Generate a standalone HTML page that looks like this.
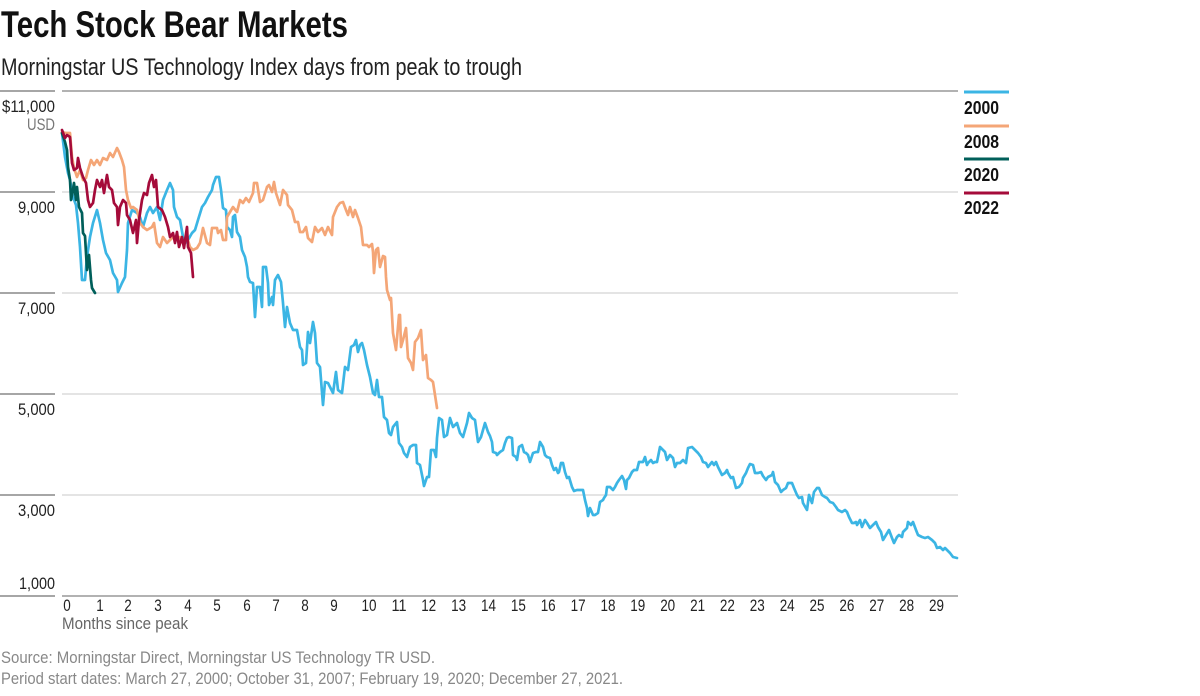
<!DOCTYPE html>
<html>
<head>
<meta charset="utf-8">
<style>
  html, body { margin: 0; padding: 0; background: #fff; }
  svg { display: block; }
  .c { font-family: "Liberation Sans Narrow", "Liberation Sans", sans-serif; }
</style>
</head>
<body>
<svg width="1200" height="696" viewBox="0 0 1200 696" xmlns="http://www.w3.org/2000/svg">
  <rect x="0" y="0" width="1200" height="696" fill="#fff"/>

  <!-- Title & subtitle -->
  <text class="c" x="1" y="37" font-size="37" font-weight="bold" fill="#111" textLength="347" lengthAdjust="spacingAndGlyphs">Tech Stock Bear Markets</text>
  <text class="c" x="1" y="75" font-size="24" fill="#222" textLength="521" lengthAdjust="spacingAndGlyphs">Morningstar US Technology Index days from peak to trough</text>

  <!-- gridlines -->
  <g fill="none">
    <line x1="62" y1="192" x2="958" y2="192" stroke="#dcdcdc" stroke-width="1.5"/>
    <line x1="62" y1="293" x2="958" y2="293" stroke="#dcdcdc" stroke-width="1.5"/>
    <line x1="62" y1="394" x2="958" y2="394" stroke="#dcdcdc" stroke-width="1.5"/>
    <line x1="62" y1="495" x2="958" y2="495" stroke="#dcdcdc" stroke-width="1.5"/>
    <line x1="62" y1="91" x2="958" y2="91" stroke="#999" stroke-width="1.5"/>
    <line x1="62" y1="596" x2="958" y2="596" stroke="#999" stroke-width="1.5"/>
    <!-- left label rules -->
    <line x1="0" y1="91" x2="55" y2="91" stroke="#888" stroke-width="1.5"/>
    <line x1="0" y1="192" x2="55" y2="192" stroke="#888" stroke-width="1.5"/>
    <line x1="0" y1="293" x2="55" y2="293" stroke="#888" stroke-width="1.5"/>
    <line x1="0" y1="394" x2="55" y2="394" stroke="#888" stroke-width="1.5"/>
    <line x1="0" y1="495" x2="55" y2="495" stroke="#888" stroke-width="1.5"/>
    <line x1="0" y1="596" x2="55" y2="596" stroke="#888" stroke-width="1.5"/>
  </g>

  <!-- y labels -->
  <g class="c" font-size="16.5" fill="#222" text-anchor="end">
    <text x="55" y="112" textLength="53" lengthAdjust="spacingAndGlyphs">$11,000</text>
    <text x="55" y="130" fill="#777" textLength="28" lengthAdjust="spacingAndGlyphs">USD</text>
    <text x="55" y="213" textLength="37" lengthAdjust="spacingAndGlyphs">9,000</text>
    <text x="55" y="314" textLength="37" lengthAdjust="spacingAndGlyphs">7,000</text>
    <text x="55" y="415" textLength="37" lengthAdjust="spacingAndGlyphs">5,000</text>
    <text x="55" y="516" textLength="37" lengthAdjust="spacingAndGlyphs">3,000</text>
    <text x="55" y="589" textLength="36" lengthAdjust="spacingAndGlyphs">1,000</text>
  </g>

  <!-- x labels -->
  <g class="c" font-size="16.5" fill="#222" text-anchor="middle">
    <text x="67" y="611" textLength="7.5" lengthAdjust="spacingAndGlyphs">0</text>
    <text x="100" y="611" textLength="7.5" lengthAdjust="spacingAndGlyphs">1</text>
    <text x="128" y="611" textLength="7.5" lengthAdjust="spacingAndGlyphs">2</text>
    <text x="158" y="611" textLength="7.5" lengthAdjust="spacingAndGlyphs">3</text>
    <text x="188" y="611" textLength="7.5" lengthAdjust="spacingAndGlyphs">4</text>
    <text x="217" y="611" textLength="7.5" lengthAdjust="spacingAndGlyphs">5</text>
    <text x="247" y="611" textLength="7.5" lengthAdjust="spacingAndGlyphs">6</text>
    <text x="276" y="611" textLength="7.5" lengthAdjust="spacingAndGlyphs">7</text>
    <text x="305" y="611" textLength="7.5" lengthAdjust="spacingAndGlyphs">8</text>
    <text x="334" y="611" textLength="7.5" lengthAdjust="spacingAndGlyphs">9</text>
    <text x="369" y="611" textLength="15" lengthAdjust="spacingAndGlyphs">10</text>
    <text x="399" y="611" textLength="15" lengthAdjust="spacingAndGlyphs">11</text>
    <text x="428.7" y="611" textLength="15" lengthAdjust="spacingAndGlyphs">12</text>
    <text x="458.6" y="611" textLength="15" lengthAdjust="spacingAndGlyphs">13</text>
    <text x="488.5" y="611" textLength="15" lengthAdjust="spacingAndGlyphs">14</text>
    <text x="518.4" y="611" textLength="15" lengthAdjust="spacingAndGlyphs">15</text>
    <text x="548.2" y="611" textLength="15" lengthAdjust="spacingAndGlyphs">16</text>
    <text x="578.1" y="611" textLength="15" lengthAdjust="spacingAndGlyphs">17</text>
    <text x="608" y="611" textLength="15" lengthAdjust="spacingAndGlyphs">18</text>
    <text x="637.8" y="611" textLength="15" lengthAdjust="spacingAndGlyphs">19</text>
    <text x="667.7" y="611" textLength="15" lengthAdjust="spacingAndGlyphs">20</text>
    <text x="697.6" y="611" textLength="15" lengthAdjust="spacingAndGlyphs">21</text>
    <text x="727.4" y="611" textLength="15" lengthAdjust="spacingAndGlyphs">22</text>
    <text x="757.3" y="611" textLength="15" lengthAdjust="spacingAndGlyphs">23</text>
    <text x="787.2" y="611" textLength="15" lengthAdjust="spacingAndGlyphs">24</text>
    <text x="817" y="611" textLength="15" lengthAdjust="spacingAndGlyphs">25</text>
    <text x="846.9" y="611" textLength="15" lengthAdjust="spacingAndGlyphs">26</text>
    <text x="876.8" y="611" textLength="15" lengthAdjust="spacingAndGlyphs">27</text>
    <text x="906.6" y="611" textLength="15" lengthAdjust="spacingAndGlyphs">28</text>
    <text x="936.5" y="611" textLength="15" lengthAdjust="spacingAndGlyphs">29</text>
  </g>
  <text class="c" x="62" y="629" font-size="16.5" fill="#666" textLength="126" lengthAdjust="spacingAndGlyphs">Months since peak</text>

  <!-- Source -->
  <text class="c" x="1" y="663" font-size="16.5" fill="#888" textLength="434" lengthAdjust="spacingAndGlyphs">Source: Morningstar Direct, Morningstar US Technology TR USD.</text>
  <text class="c" x="1" y="684" font-size="16.5" fill="#888" textLength="622" lengthAdjust="spacingAndGlyphs">Period start dates: March 27, 2000; October 31, 2007; February 19, 2020; December 27, 2021.</text>

  <!-- Series -->
  <g fill="none" stroke-width="2.7" stroke-linejoin="round" stroke-linecap="round">
    <!-- 2000 -->
    <polyline stroke="#3bb5e4" points="62,133 65,157 68,173 70,180 73,197 76,205 78,223 80,247 82,280 85,280 87,257 90,237 93,223 97,210 100,223 103,240 106,253 110,260 113,273 117,280 118,292 122,283 125,277 127,250 128,223 132,210 137,213 140,217 143,227 147,213 150,207 153,213 157,207 160,220 163,200 167,190 170,183 173,190 174,207 177,217 180,220 183,237 185,243 188,240 192,233 195,230 198,220 202,207 205,203 208,197 212,190 213,185 216,177 219,177 221,190 223,208 226,210 227,227 230,230 232,237 233,217 235,215 237,232 240,237 242,250 245,257 247,267 248,277 250,282 253,283 255,317 257,287 260,287 262,307 263,267 266,267 268,283 269,305 272,297 273,305 275,280 278,275 281,282 283,303 285,327 287,307 290,323 293,330 297,330 300,347 302,350 303,365 306,363 308,332 310,343 313,322 315,333 317,363 320,367 323,405 325,382 328,383 333,393 336,372 338,390 342,393 345,367 348,370 351,347 354,345 356,340 358,352 360,345 362,343 364,350 367,365 370,377 373,393 375,395 377,380 379,397 382,397 384,417 387,420 389,433 391,435 393,427 397,422 399,443 402,447 404,453 407,457 410,447 413,445 416,445 417,463 420,465 423,480 424,486 427,477 429,477 431,450 434,450 436,457 437,438 439,418 442,420 444,437 447,435 450,418 453,427 457,423 460,433 463,437 467,423 469,413 472,418 475,420 478,442 481,437 485,423 488,432 490,436 492,442 493,452 496,453 497,455 500,452 503,450 505,443 507,438 509,437 512,438 513,455 516,457 517,460 519,447 522,445 524,452 526,453 528,455 530,462 533,453 536,452 538,452 540,442 543,447 545,455 547,457 550,458 552,465 554,470 556,468 558,473 559,472 561,463 563,463 565,472 567,478 569,477 572,487 574,491 577,490 580,490 583,490 585,500 587,508 588,516 590,508 593,515 595,515 598,513 600,502 603,500 604,498 606,495 607,487 610,487 613,490 615,487 617,483 619,480 622,476 624,480 626,489 627,480 629,478 632,472 634,470 637,470 639,462 643,462 645,457 647,465 648,463 651,460 653,463 655,462 657,462 660,447 663,450 665,452 667,460 670,455 673,458 675,467 677,463 680,463 683,460 686,463 688,448 692,447 695,450 698,453 701,457 703,462 706,463 708,467 712,462 714,465 716,462 718,467 722,475 725,473 727,470 728,473 731,478 733,477 736,488 739,487 742,483 743,478 746,473 748,468 750,464 753,465 755,473 758,473 761,472 763,476 766,480 768,477 772,475 773,472 775,482 778,485 781,492 783,490 786,488 788,483 792,483 794,488 797,495 799,498 802,497 803,503 807,510 809,495 812,503 814,492 817,488 819,488 822,495 825,497 827,498 830,502 833,503 836,507 838,510 842,512 845,510 847,512 849,517 852,523 854,523 856,522 857,525 860,520 862,527 865,520 867,523 870,528 873,525 876,522 878,527 881,532 883,540 886,535 889,530 892,538 894,543 897,537 899,535 902,537 903,532 907,528 908,522 911,525 913,522 916,530 918,535 922,537 925,538 928,537 932,540 935,543 937,548 940,547 943,550 945,548 947,550 950,553 953,557 957,558"/>
    <!-- 2008 -->
    <polyline stroke="#f4a677" points="62,132 66,133 70,133 72,157 74,168 77,177 80,170 83,180 86,178 88,170 91,160 94,165 97,160 100,165 103,158 107,160 110,153 113,157 117,148 119,152 122,160 124,167 126,190 128,200 131,208 133,207 137,210 140,223 143,227 147,230 152,227 154,223 157,243 160,247 163,237 167,243 170,240 173,237 177,240 180,237 183,243 187,237 190,247 193,250 197,248 200,243 203,228 207,243 210,245 212,228 217,228 218,233 221,230 223,240 226,240 227,217 230,212 233,207 237,212 240,200 243,203 246,198 249,202 253,193 254,183 257,183 260,202 263,200 267,187 269,185 272,192 274,182 276,193 280,205 283,190 287,195 288,205 292,210 295,222 298,222 300,232 303,232 306,227 308,238 312,242 315,227 318,232 322,228 325,235 328,227 332,235 333,217 337,207 340,203 343,202 346,210 348,215 350,207 353,217 355,210 358,218 361,227 363,245 367,245 369,247 372,244 373,252 374,273 376,250 378,248 380,267 383,256 385,257 386,277 387,290 390,300 391,298 393,333 396,350 399,315 400,315 401,347 403,340 406,328 408,358 411,363 413,370 415,342 418,338 421,330 423,360 426,355 428,378 431,380 433,382 437,408"/>
    <!-- 2020 -->
    <polyline stroke="#005f5a" points="62,133 65,142 67,150 68,167 70,180 71,200 73,190 74,183 76,200 77,187 79,207 82,213 83,233 85,236 86,253 87,270 89,255 91,280 92,288 95,293"/>
    <!-- 2022 -->
    <polyline stroke="#a50b3a" points="62,130 65,138 67,135 70,137 72,163 74,170 77,168 78,158 80,168 83,177 86,183 88,200 90,207 93,203 95,190 97,180 100,187 102,180 104,193 107,175 109,187 112,190 114,203 117,207 118,225 120,207 123,200 126,203 127,215 130,220 133,233 136,220 137,243 139,220 142,200 144,193 147,195 149,183 152,175 154,187 156,180 158,207 162,210 165,217 168,227 170,237 173,233 175,243 177,232 179,247 182,237 184,248 187,227 188,247 191,253 193,277"/>
  </g>

  <!-- Legend -->
  <g stroke-width="3">
    <line x1="964" y1="92" x2="1009" y2="92" stroke="#3bb5e4"/>
    <line x1="964" y1="126" x2="1009" y2="126" stroke="#f4a677"/>
    <line x1="964" y1="159" x2="1009" y2="159" stroke="#005f5a"/>
    <line x1="964" y1="193" x2="1009" y2="193" stroke="#a50b3a"/>
  </g>
  <g class="c" font-size="18" font-weight="bold" fill="#111">
    <text x="964" y="114" textLength="35" lengthAdjust="spacingAndGlyphs">2000</text>
    <text x="964" y="148" textLength="35" lengthAdjust="spacingAndGlyphs">2008</text>
    <text x="964" y="181" textLength="35" lengthAdjust="spacingAndGlyphs">2020</text>
    <text x="964" y="214" textLength="35" lengthAdjust="spacingAndGlyphs">2022</text>
  </g>
</svg>
</body>
</html>
